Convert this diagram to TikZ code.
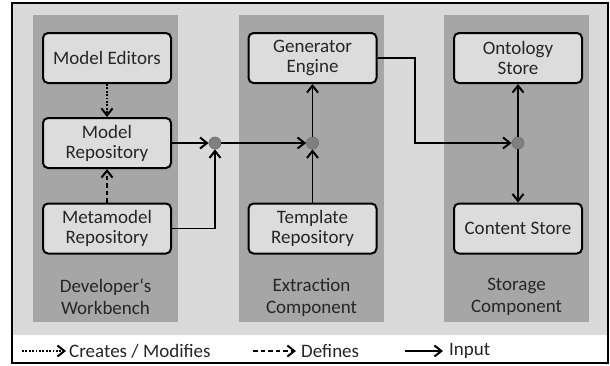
\documentclass[tikz,border=0pt]{standalone}
\usepackage{fontspec}
\setmainfont{Carlito}
\usetikzlibrary{arrows.meta}
\definecolor{bglight}{HTML}{DADADA}
\definecolor{colgray}{HTML}{A6A6A6}
\definecolor{boxfill}{HTML}{DCDCDC}
\definecolor{dotfill}{HTML}{808080}
\definecolor{txt}{HTML}{262626}
\tikzset{
  comp/.style={draw=black, line width=2pt, rounded corners=5pt, fill=boxfill,
    minimum width=128pt, minimum height=50pt, align=center, text=txt,
    font=\fontsize{19}{20}\selectfont, inner sep=0pt},
  lbl/.style={align=center, text=txt, font=\fontsize{19}{22}\selectfont},
  junc/.style={circle, fill=dotfill, draw=black!55, line width=0.7pt, minimum size=12pt, inner sep=0pt},
  tip/.style={-{Straight Barb[length=7pt,width=11pt,line width=2pt]}},
  inp/.style={tip, line width=1.9pt, black},
  crt/.style={tip, line width=1.9pt, black, dash pattern=on 1.8pt off 1.6pt},
  dfn/.style={tip, line width=1.9pt, black, dash pattern=on 4.5pt off 3pt},
  legtxt/.style={text=txt, font=\fontsize{19}{20}\selectfont, anchor=west, inner sep=0pt}
}
\begin{document}
\begin{tikzpicture}[x=1pt,y=-1pt]
\useasboundingbox (0,0) rectangle (610,365);
\fill[white] (0,0) rectangle (610,365);
% frame
\fill[bglight] (12,3) rectangle (608,335);
\draw[black, line width=1.5pt] (12,3) rectangle (608,363);
% columns
\fill[colgray] (33,15) rectangle (178,322);
\fill[colgray] (239,15) rectangle (384,322);
\fill[colgray] (444,15) rectangle (589,322);
% boxes
\node[comp] (me) at (107,58) {Model Editors};
\node[comp] (mr) at (107,143) {Model\\Repository};
\node[comp] (mm) at (107,228.5) {Metamodel\\Repository};
\node[comp] (ge) at (312.5,58) {Generator\\Engine};
\node[comp] (tr) at (312.5,228.5) {Template\\Repository};
\node[comp] (os) at (518,58) {Ontology\\Store};
\node[comp] (cs) at (518,228.5) {Content Store};
% column labels
\node[lbl] (l1) at (105.5,297) {Developer‘s\\Workbench};
\node[lbl] (l2) at (311.5,297) {Extraction\\Component};
\node[lbl] (l3) at (516.5,297) {Storage\\Component};
% junctions
\node[junc] (j1) at (215,143) {};
\node[junc] (j2) at (312.5,143) {};
\node[junc] (j3) at (518,143) {};
% connectors
\draw[crt] (me) -- (mr);
\draw[dfn] (mm) -- (mr);
\draw[inp] (mr) -- (j1);
\draw[inp] (mm.east) -| (j1);
\draw[inp] (j1) -- (j2);
\draw[inp] (tr) -- (j2);
\draw[inp] (j2) -- (ge);
\draw[inp] (ge.east) -- (415,58) |- (j3);
\draw[inp] (j3) -- (os);
\draw[inp] (j3) -- (cs);
% legend
\coordinate (a1) at (22,351);
\coordinate (a2) at (66,351);
\draw[crt] (a1) -- (a2);
\node[legtxt] (t1) at (69,351) {Creates / Modifies};
\coordinate (b1) at (253,351);
\coordinate (b2) at (296,351);
\draw[dfn] (b1) -- (b2);
\node[legtxt] (t2) at (301,351) {Defines};
\coordinate (c1) at (405,351);
\coordinate (c2) at (443,351);
\draw[inp] (c1) -- (c2);
\node[legtxt] (t3) at (449,351) {Input};
\end{tikzpicture}
\end{document}
